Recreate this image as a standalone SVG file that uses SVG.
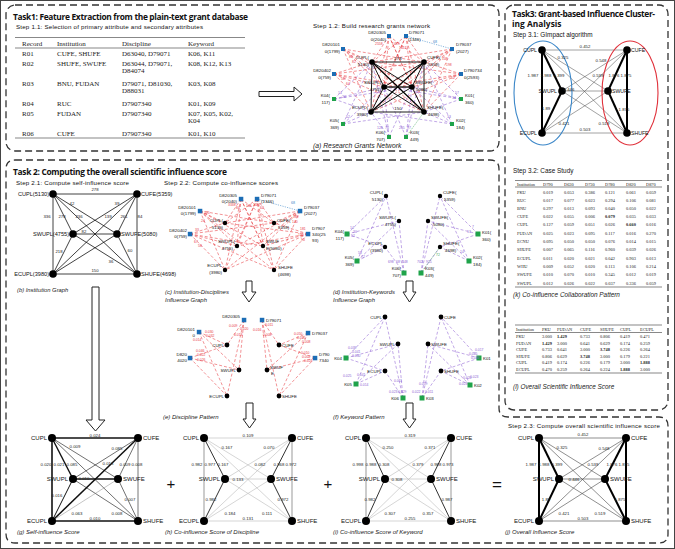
<svg xmlns="http://www.w3.org/2000/svg" width="675" height="549" viewBox="0 0 675 549">
<style>
.f{font-family:"Liberation Sans",Arial,sans-serif;fill:#111}
.s{font-family:"Liberation Serif","Times New Roman",serif;fill:#222}
.h{font-family:"Open Sans","Noto Sans",sans-serif;font-weight:bold;fill:#111}
.cap{font-family:"Liberation Sans",Arial,sans-serif;font-style:italic;fill:#222}
.box{fill:none;stroke:#333;stroke-width:1.3;stroke-dasharray:7 4}
.ds{fill:#1c6db5}
.ks{fill:#1fa34a}
.rd{stroke:#e8383f;stroke-width:0.55;stroke-dasharray:3 2;fill:none}
.pd{stroke:#8d5fd3;stroke-width:0.55;stroke-dasharray:3 2;fill:none}
.arw{fill:#fff;stroke:#222;stroke-width:1}
.rl{font-family:"Liberation Sans",Arial,sans-serif;fill:#e8383f;font-size:3.4px}
.pl{font-family:"Liberation Sans",Arial,sans-serif;fill:#8d5fd3;font-size:3.4px}
.tl{stroke:#555;stroke-width:0.7}
.el{font-family:"Liberation Sans",Arial,sans-serif;fill:#222;font-size:4.3px;text-anchor:middle}
.nl{font-family:"Liberation Sans",Arial,sans-serif;fill:#111;font-size:6px}
.ml{font-family:"Liberation Sans",Arial,sans-serif;fill:#111;font-size:4.4px}
.end{text-anchor:end}
.tk{font-family:"Liberation Serif","Times New Roman",serif;fill:#222;font-size:4.4px}
</style>
<rect x="0" y="0" width="675" height="549" fill="#fff"/>
<rect x="0.5" y="0.5" width="674" height="548" fill="none" stroke="#444" stroke-width="1"/>

<!-- Boxes -->
<g id="boxes">
<rect class="box" x="6" y="5" width="493" height="146" rx="9"/>
<rect class="box" x="505" y="5" width="163" height="405" rx="9"/>
<path class="box" d="M15 160H490Q499 160 499 169V408Q499 417 508 417H659Q668 417 668 426V534Q668 543 659 543H15Q6 543 6 534V169Q6 160 15 160Z"/>
</g>

<!-- Task 1 -->
<g id="task1">
<text class="h" x="13" y="20" font-size="8.4" textLength="235">Task1: Feature Extraction from the plain-text grant database</text>
<text class="f" x="16" y="29" font-size="6.2" textLength="187">Step 1.1: Selection of primary attribute and secondary attributes</text>
<line class="tl" x1="15" y1="37.5" x2="245" y2="37.5"/>
<line class="tl" x1="15" y1="48" x2="245" y2="48" stroke-width="0.5"/>
<line class="tl" x1="15" y1="138" x2="245" y2="138"/>
<g class="s" font-size="7">
<text x="22" y="45.5">Record</text><text x="57" y="45.5">Institution</text><text x="122" y="45.5">Discipline</text><text x="188" y="45.5">Keyword</text>
<text x="22" y="55.5">R01</text><text x="57" y="55.5">CUFE, SHUFE</text><text x="122" y="55.5">D63040, D79071</text><text x="188" y="55.5">K06, K11</text>
<text x="22" y="65.5">R02</text><text x="57" y="65.5">SHUFE, SWUFE</text><text x="122" y="65.5">D63044, D79071,</text><text x="188" y="65.5">K08, K12, K13</text>
<text x="122" y="72.5">D84074</text>
<text x="22" y="85.5">R03</text><text x="57" y="85.5">BNU, FUDAN</text><text x="122" y="85.5">D79071, D81030,</text><text x="188" y="85.5">K03, K08</text>
<text x="122" y="92.5">D88031</text>
<text x="22" y="105.5">R04</text><text x="57" y="105.5">RUC</text><text x="122" y="105.5">D7907340</text><text x="188" y="105.5">K01, K09</text>
<text x="22" y="115.5">R05</text><text x="57" y="115.5">FUDAN</text><text x="122" y="115.5">D7907340</text><text x="188" y="115.5">K07, K05, K02,</text>
<text x="188" y="122.5">K04</text>
<text x="22" y="135.5">R06</text><text x="57" y="135.5">CUFE</text><text x="122" y="135.5">D7907340</text><text x="188" y="135.5">K01, K10</text>
</g>
<polygon class="arw" points="259,91.5 294,91.5 294,87 302,94 294,101 294,96.5 259,96.5"/>
</g>

<!-- (a) research grants network -->
<g id="network-a">
<text class="f" x="313" y="28" font-size="6.2" textLength="117">Step 1.2: Build research grants network</text>
<g id="a-connectors">
<path class="rd" d="M389 36L372 62M389 36L424 62M389 36L384 87M389 36L412 87M389 36L371 112M389 36L424 112M406 36L372 62M406 36L424 62M406 36L384 87M406 36L412 87M406 36L371 112M406 36L424 112M343 49L372 62M343 49L424 62M343 49L384 87M343 49L412 87M343 49L371 112M343 49L424 112M452 49L372 62M452 49L424 62M452 49L384 87M452 49L412 87M452 49L371 112M452 49L424 112M334 74L372 62M334 74L424 62M334 74L384 87M334 74L412 87M334 74L371 112M334 74L424 112M461 74L372 62M461 74L424 62M461 74L384 87M461 74L412 87M461 74L371 112M461 74L424 112"/>
<path class="pd" d="M334 99L372 62M334 99L384 87M334 99L371 112M334 99L412 87M343 124L372 62M343 124L384 87M343 124L371 112M343 124L424 112M389 137L372 62M389 137L384 87M389 137L371 112M389 137L412 87M406 137L424 62M406 137L412 87M406 137L384 87M461 99L424 62M461 99L412 87M461 99L424 112M461 99L384 87M452 124L424 62M452 124L412 87M452 124L424 112M452 124L371 112"/>
<line x1="406" y1="36" x2="452" y2="49" stroke="#3a86c8" stroke-width="0.6" stroke-dasharray="1.2 1.2"/>
<line x1="406" y1="137" x2="424" y2="112" stroke="#3aa655" stroke-width="0.6" stroke-dasharray="1.2 1.2"/>
<g stroke="#000" stroke-width="0.9">
<line x1="372" y1="62" x2="424" y2="62"/><line x1="372" y1="62" x2="384" y2="87"/><line x1="372" y1="62" x2="412" y2="87"/><line x1="372" y1="62" x2="371" y2="112"/><line x1="372" y1="62" x2="424" y2="112" stroke-width="1.2"/>
<line x1="424" y1="62" x2="384" y2="87"/><line x1="424" y1="62" x2="412" y2="87"/><line x1="424" y1="62" x2="371" y2="112" stroke-width="1.2"/><line x1="424" y1="62" x2="424" y2="112"/>
<line x1="384" y1="87" x2="412" y2="87" stroke-width="1.3"/><line x1="384" y1="87" x2="371" y2="112"/><line x1="384" y1="87" x2="424" y2="112"/>
<line x1="412" y1="87" x2="371" y2="112"/><line x1="412" y1="87" x2="424" y2="112"/><line x1="371" y1="112" x2="424" y2="112"/>
</g>
</g>
<g id="a-nodes">
<circle cx="372" cy="62" r="2.8"/><circle cx="424" cy="62" r="2.8"/><circle cx="384" cy="87" r="2.8"/><circle cx="412" cy="87" r="2.8"/><circle cx="371" cy="112" r="2.8"/><circle cx="424" cy="112" r="2.8"/>
<rect class="ds" x="387" y="34" width="4" height="4"/><rect class="ds" x="404" y="34" width="4" height="4"/><rect class="ds" x="341" y="47" width="4" height="4"/><rect class="ds" x="450" y="47" width="4" height="4"/><rect class="ds" x="332" y="72" width="4" height="4"/><rect class="ds" x="459" y="72" width="4" height="4"/>
<rect class="ks" x="332" y="97" width="4" height="4"/><rect class="ks" x="459" y="97" width="4" height="4"/><rect class="ks" x="341" y="122" width="4" height="4"/><rect class="ks" x="450" y="122" width="4" height="4"/><rect class="ks" x="387" y="135" width="4" height="4"/><rect class="ks" x="404" y="135" width="4" height="4"/>
</g>
<g class="ml" font-size="4">
<text x="386" y="34" class="end">D820305</text><text x="386" y="41" class="end">0(2040)</text>
<text x="409" y="34">D79071</text><text x="408" y="41">(1346)</text>
<text x="340" y="46" class="end">D820101</text><text x="340" y="53" class="end">0(1799)</text>
<text x="456" y="46">D79037</text><text x="456" y="53">(2027)</text>
<text x="331" y="72" class="end">D820402</text><text x="331" y="79" class="end">0(759)</text>
<text x="464" y="72">D790734</text><text x="464" y="79">0(2593)</text>
<text x="330" y="97" class="end">K04(</text><text x="330" y="104" class="end">117)</text>
<text x="465" y="97">K01(</text><text x="465" y="104">360)</text>
<text x="339" y="122" class="end">K05(</text><text x="339" y="129" class="end">369)</text>
<text x="456" y="122">K02(</text><text x="456" y="129">184)</text>
<text x="385" y="134" class="end">K06(</text><text x="385" y="141" class="end">707)</text>
<text x="410" y="134">K03(</text><text x="410" y="141">449)</text>
<text x="369" y="59" class="end">CUPL(</text><text x="369" y="66" class="end">5130)</text>
<text x="427" y="59">CUFE(</text><text x="428" y="66">5359)</text>
<text x="381" y="84" class="end">SWUPL(</text><text x="381" y="91" class="end">4755)</text>
<text x="415" y="84">SWUFE(</text><text x="416" y="91">5080)</text>
<text x="368" y="109" class="end">ECUPL(</text><text x="368" y="116" class="end">3980)</text>
<text x="427" y="109">SHUFE(</text><text x="428" y="116">4698)</text>
<text x="398" y="60" text-anchor="middle">278</text><text x="398" y="110" text-anchor="middle">150</text>
</g>
<text x="433" y="43" font-family="Liberation Sans,Arial,sans-serif" font-size="3.6" fill="#3a86c8">68</text>
<g class="rl"><text x="375" y="45">2558</text><text x="392" y="45">1489</text><text x="399" y="49">1451</text><text x="349" y="58">80</text><text x="352" y="63">82</text><text x="341" y="80">56</text><text x="346" y="85">64</text><text x="442" y="60">108</text><text x="446" y="66">198</text><text x="451" y="79">52</text></g>
<g class="pl"><text x="338" y="94">14</text><text x="342" y="98">20</text><text x="455" y="94">57</text><text x="452" y="99">14</text><text x="377" y="129">128</text><text x="385" y="129">70</text><text x="399" y="129">205</text><text x="407" y="129">97</text><text x="346" y="118">52</text><text x="447" y="118">13</text></g>
<text class="cap" x="313" y="148" font-size="6.8">(a) Research Grants Network</text>
</g>

<!-- Task 3 -->
<g id="task3">
<text class="h" x="512" y="17" font-size="8.4" textLength="143">Task3: Grant-based Influence Cluster-</text>
<text class="h" x="512" y="27" font-size="8.4">ing Analysis</text>
<text class="f" x="513" y="37" font-size="6.4">Step 3.1: GImpact algorithm</text>
<g id="t3-connectors">
<g stroke="#555" stroke-width="0.55">
<line x1="542" y1="50" x2="627" y2="50"/><line x1="542" y1="50" x2="608" y2="91"/><line x1="542" y1="50" x2="627" y2="133"/>
<line x1="627" y1="50" x2="562" y2="91"/><line x1="627" y1="50" x2="542" y2="133"/>
<line x1="562" y1="91" x2="608" y2="91"/><line x1="562" y1="91" x2="627" y2="133"/>
<line x1="608" y1="91" x2="542" y2="133"/><line x1="542" y1="133" x2="627" y2="133"/>
</g>
<g stroke="#000" stroke-width="2">
<line x1="542" y1="50" x2="562" y2="91"/><line x1="542" y1="50" x2="542" y2="133"/><line x1="562" y1="91" x2="542" y2="133"/>
<line x1="627" y1="50" x2="608" y2="91"/><line x1="627" y1="50" x2="627" y2="133"/><line x1="608" y1="91" x2="627" y2="133"/>
</g>
</g>
<ellipse cx="543" cy="93" rx="29" ry="52" fill="none" stroke="#3a86c8" stroke-width="1.1"/>
<ellipse cx="630" cy="93" rx="28" ry="52" fill="none" stroke="#e0303a" stroke-width="1.1"/>
<g id="t3-nodes"><circle cx="542" cy="50" r="3.8"/><circle cx="627" cy="50" r="3.8"/><circle cx="562" cy="91" r="3.8"/><circle cx="608" cy="91" r="3.8"/><circle cx="542" cy="133" r="3.8"/><circle cx="627" cy="133" r="3.8"/></g>
<g class="f" font-size="5.2">
<text x="537" y="52" class="end">CUPL</text><text x="631" y="52">CUFE</text><text x="557" y="93" class="end">SWUPL</text><text x="612" y="93">SWUFE</text><text x="537" y="135" class="end">ECUPL</text><text x="631" y="135">SHUFE</text>
</g>
<g class="el" font-size="3.9">
<text x="585" y="48">0.452</text><text x="563" y="59">0.325</text><text x="601" y="62">0.548</text>
<text x="533" y="76.5">1.987</text><text x="546" y="76.5">1.988</text><text x="559" y="76.5">0.399</text><text x="598" y="76.5">0.539</text><text x="614" y="76.5">1.876</text><text x="626" y="76.5">1.875</text>
<text x="569" y="91">0.446</text><text x="546" y="110">1.89</text><text x="624" y="111">1.875</text>
<text x="564" y="125">0.421</text><text x="604" y="125">0.519</text><text x="585" y="131">0.503</text>
</g>
<text class="f" x="513" y="173" font-size="6.4">Step 3.2: Case Study</text>
<line class="tl" x1="515" y1="180.5" x2="662" y2="180.5" stroke-width="0.5"/>
<line class="tl" x1="515" y1="187" x2="662" y2="187" stroke-width="0.3"/>
<line class="tl" x1="515" y1="287" x2="662" y2="287" stroke-width="0.5"/>
<g class="tk">
<text x="517" y="185.5">Institution</text><text x="543" y="185.5">D790</text><text x="564" y="185.5">D630</text><text x="585" y="185.5">D730</text><text x="605" y="185.5">D780</text><text x="626" y="185.5">D820</text><text x="646" y="185.5">D870</text>
<text x="517" y="193.5">PKU</text><text x="543" y="193.5">0.019</text><text x="564" y="193.5">0.053</text><text x="585" y="193.5">0.386</text><text x="605" y="193.5">0.121</text><text x="626" y="193.5">0.061</text><text x="646" y="193.5">0.059</text>
<text x="517" y="201.5">RUC</text><text x="543" y="201.5">0.017</text><text x="564" y="201.5">0.077</text><text x="585" y="201.5">0.023</text><text x="605" y="201.5">0.294</text><text x="626" y="201.5">0.106</text><text x="646" y="201.5">0.081</text>
<text x="517" y="209.5">BNU</text><text x="543" y="209.5">0.297</text><text x="564" y="209.5">0.013</text><text x="585" y="209.5">0.093</text><text x="605" y="209.5">0.040</text><text x="626" y="209.5">0.050</text><text x="646" y="209.5">0.022</text>
<text x="517" y="218">CUFE</text><text x="543" y="218">0.022</text><text x="564" y="218">0.055</text><text x="585" y="218">0.006</text><text x="605" y="218" font-weight="bold">0.079</text><text x="626" y="218">0.035</text><text x="646" y="218">0.033</text>
<text x="517" y="226">CUPL</text><text x="543" y="226">0.127</text><text x="564" y="226">0.059</text><text x="585" y="226">0.051</text><text x="605" y="226">0.026</text><text x="626" y="226" font-weight="bold">0.660</text><text x="646" y="226">0.016</text>
<text x="517" y="234.5">FUDAN</text><text x="543" y="234.5">0.025</text><text x="564" y="234.5">0.023</text><text x="585" y="234.5">0.095</text><text x="605" y="234.5">0.117</text><text x="626" y="234.5">0.016</text><text x="646" y="234.5">0.270</text>
<text x="517" y="243">ECNU</text><text x="543" y="243">0.095</text><text x="564" y="243">0.050</text><text x="585" y="243">0.050</text><text x="605" y="243">0.076</text><text x="626" y="243">0.014</text><text x="646" y="243">0.015</text>
<text x="517" y="251">SHUFE</text><text x="543" y="251">0.007</text><text x="564" y="251">0.065</text><text x="585" y="251">0.116</text><text x="605" y="251">0.960</text><text x="626" y="251">0.039</text><text x="646" y="251">0.026</text>
<text x="517" y="259.5">ECUPL</text><text x="543" y="259.5">0.011</text><text x="564" y="259.5">0.020</text><text x="585" y="259.5">0.021</text><text x="605" y="259.5">0.042</text><text x="626" y="259.5">0.903</text><text x="646" y="259.5">0.013</text>
<text x="517" y="268">WHU</text><text x="543" y="268">0.009</text><text x="564" y="268">0.052</text><text x="585" y="268">0.020</text><text x="605" y="268">0.113</text><text x="626" y="268">0.106</text><text x="646" y="268">0.214</text>
<text x="517" y="276">SWUFE</text><text x="543" y="276">0.010</text><text x="564" y="276">0.070</text><text x="585" y="276">0.010</text><text x="605" y="276">0.345</text><text x="626" y="276">0.012</text><text x="646" y="276">0.019</text>
<text x="517" y="284.5">SWUPL</text><text x="543" y="284.5">0.012</text><text x="564" y="284.5">0.026</text><text x="585" y="284.5">0.022</text><text x="605" y="284.5">0.037</text><text x="626" y="284.5">0.336</text><text x="646" y="284.5">0.059</text>
</g>
<text class="cap" x="513" y="297" font-size="6.4">(k) Co-influence Collaboration Pattern</text>
<line class="tl" x1="515" y1="325" x2="662" y2="325" stroke-width="0.5"/>
<line class="tl" x1="515" y1="332.5" x2="662" y2="332.5" stroke-width="0.3"/>
<line class="tl" x1="515" y1="373" x2="662" y2="373" stroke-width="0.5"/>
<g class="tk">
<text x="516" y="331">Institution</text><text x="542" y="331">PKU</text><text x="557" y="331">FUDAN</text><text x="580" y="331">CUFE</text><text x="600" y="331">SHUFE</text><text x="620" y="331">CUPL</text><text x="640" y="331">ECUPL</text>
<text x="516" y="338">PKU</text><text x="542" y="338">3.000</text><text x="557" y="338" font-weight="bold">1.429</text><text x="580" y="338">0.733</text><text x="600" y="338">0.806</text><text x="620" y="338">0.419</text><text x="640" y="338">0.471</text>
<text x="516" y="344.5">FUDAN</text><text x="542" y="344.5" font-weight="bold">1.429</text><text x="557" y="344.5">3.000</text><text x="580" y="344.5">0.641</text><text x="600" y="344.5">0.629</text><text x="620" y="344.5">0.174</text><text x="640" y="344.5">0.259</text>
<text x="516" y="351">CUFE</text><text x="542" y="351">0.733</text><text x="557" y="351">0.641</text><text x="580" y="351">3.000</text><text x="600" y="351" font-weight="bold">3.748</text><text x="620" y="351">0.226</text><text x="640" y="351">0.264</text>
<text x="516" y="357.5">SHUFE</text><text x="542" y="357.5">0.806</text><text x="557" y="357.5">0.629</text><text x="580" y="357.5" font-weight="bold">3.748</text><text x="600" y="357.5">3.000</text><text x="620" y="357.5">0.179</text><text x="640" y="357.5">0.221</text>
<text x="516" y="364">CUPL</text><text x="542" y="364">0.419</text><text x="557" y="364">0.174</text><text x="580" y="364">0.226</text><text x="600" y="364">0.179</text><text x="620" y="364">3.000</text><text x="640" y="364" font-weight="bold">1.888</text>
<text x="516" y="370.5">ECUPL</text><text x="542" y="370.5">0.470</text><text x="557" y="370.5">0.259</text><text x="580" y="370.5">0.264</text><text x="600" y="370.5">0.224</text><text x="620" y="370.5" font-weight="bold">1.888</text><text x="640" y="370.5">3.000</text>
</g>
<text class="cap" x="513" y="389" font-size="6.4">(l) Overall Scientific Influence Score</text>
</g>

<!-- Task 2 header -->
<text class="h" x="13" y="175" font-size="8.4" textLength="214">Task 2: Computing the overall scientific influence score</text>
<text class="f" x="16" y="185" font-size="6.2" textLength="113">Step 2.1: Compute self-influence score</text>

<!-- (b) institution graph -->
<g id="graph-b">
<g stroke="#111" stroke-width="0.8">
<line x1="53" y1="194" x2="137" y2="194"/><line x1="53" y1="194" x2="73" y2="234"/><line x1="53" y1="194" x2="117" y2="234"/><line x1="53" y1="194" x2="53" y2="274"/><line x1="53" y1="194" x2="137" y2="274"/>
<line x1="137" y1="194" x2="73" y2="234"/><line x1="137" y1="194" x2="117" y2="234"/><line x1="137" y1="194" x2="53" y2="274"/><line x1="137" y1="194" x2="137" y2="274"/>
<line x1="73" y1="234" x2="117" y2="234"/><line x1="73" y1="234" x2="53" y2="274"/><line x1="73" y1="234" x2="137" y2="274"/>
<line x1="117" y1="234" x2="53" y2="274"/><line x1="117" y1="234" x2="137" y2="274"/><line x1="53" y1="274" x2="137" y2="274"/>
</g>
<circle cx="53" cy="194" r="3.8"/><circle cx="137" cy="194" r="3.8"/><circle cx="73" cy="234" r="3.8"/><circle cx="117" cy="234" r="3.8"/><circle cx="53" cy="274" r="3.8"/><circle cx="137" cy="274" r="3.8"/>
<g class="f" font-size="5.6">
<text x="49" y="196" class="end">CUPL(5130)</text><text x="141" y="196">CUFE(5359)</text><text x="69" y="236" class="end">SWUPL(4755)</text><text x="121" y="236">SWUFE(5080)</text><text x="49" y="276" class="end">ECUPL(3980)</text><text x="141" y="276">SHUFE(4698)</text>
</g>
<g class="el" font-size="4.4">
<text x="95" y="191">278</text><text x="72" y="205">42</text><text x="117" y="205">39</text>
<text x="47" y="218">336</text><text x="62" y="218">278</text><text x="79" y="218">236</text><text x="108" y="218">139</text><text x="124" y="218">261</text><text x="140" y="218">84</text>
<text x="84" y="233">82</text><text x="59" y="253">218</text><text x="130" y="252">60</text><text x="111" y="263">36</text><text x="95" y="272">150</text>
</g>
<text class="cap" x="17" y="292" font-size="5.8">(b) Institution Graph</text>
<polygon class="arw" points="92,287 99,287 99,420 105,420 95.5,431 86,420 92,420"/>
</g>

<!-- (c) institution-disciplines -->
<g id="graph-c">
<text class="f" x="164" y="185" font-size="6.2" textLength="114">Step 2.2: Compute co-influence scores</text>
<path class="rd" d="M241 199L225 223M241 199L274 223M241 199L237 246M241 199L263 246M241 199L225 270M241 199L274 270M257 199L225 223M257 199L274 223M257 199L237 246M257 199L263 246M257 199L225 270M257 199L274 270M200 211L225 223M200 211L274 223M200 211L237 246M200 211L263 246M200 211L225 270M200 211L274 270M300 211L225 223M300 211L274 223M300 211L237 246M300 211L263 246M300 211L225 270M300 211L274 270M190 234L225 223M190 234L274 223M190 234L237 246M190 234L263 246M190 234L225 270M190 234L274 270M308 234L225 223M308 234L274 223M308 234L237 246M308 234L263 246M308 234L225 270M308 234L274 270"/>
<line x1="257" y1="199" x2="300" y2="211" stroke="#3a86c8" stroke-width="0.6" stroke-dasharray="1.2 1.2"/>
<text x="291" y="204" font-family="Liberation Sans,Arial,sans-serif" font-size="3.6" fill="#3a86c8">68</text>
<circle cx="225" cy="223" r="2.2"/><circle cx="274" cy="223" r="2.2"/><circle cx="237" cy="246" r="2.2"/><circle cx="263" cy="246" r="2.2"/><circle cx="225" cy="270" r="2.2"/><circle cx="274" cy="270" r="2.2"/>
<rect class="ds" x="238.8" y="196.8" width="4.5" height="4.5"/><rect class="ds" x="254.8" y="196.8" width="4.5" height="4.5"/><rect class="ds" x="197.8" y="208.8" width="4.5" height="4.5"/><rect class="ds" x="297.8" y="208.8" width="4.5" height="4.5"/><rect class="ds" x="187.8" y="231.8" width="4.5" height="4.5"/><rect class="ds" x="305.8" y="231.8" width="4.5" height="4.5"/>
<g class="ml">
<text x="237" y="197" class="end">D820305</text><text x="237" y="203" class="end">0(2040)</text>
<text x="261" y="197">D79071</text><text x="261" y="203">(1346)</text>
<text x="196" y="209" class="end">D820101</text><text x="196" y="215" class="end">0(1799)</text>
<text x="304" y="209">D79037</text><text x="304" y="215">(2027)</text>
<text x="187" y="232" class="end">D820402</text><text x="187" y="238" class="end">0(759)</text>
<text x="312" y="230">D7907</text><text x="312" y="236">340(25</text><text x="312" y="242">93)</text>
<text x="223" y="222" class="end">CUPL(</text><text x="223" y="229" class="end">5130)</text>
<text x="277" y="222">CUFE(</text><text x="278" y="229">5359)</text>
<text x="235" y="243" class="end">SWUPL(</text><text x="233" y="250" class="end">4755)</text>
<text x="266" y="243">SWUF</text><text x="266" y="250">E(5080)</text>
<text x="222" y="267" class="end">ECUPL</text><text x="222" y="274" class="end">(3980)</text>
<text x="278" y="269">SHUFE</text><text x="278" y="276">(4698)</text>
</g>
<g class="rl"><text x="228" y="206">3338</text><text x="236" y="209">84</text><text x="246" y="207">146</text><text x="253" y="206">1487</text><text x="260" y="209">62</text><text x="204" y="214">225</text><text x="201" y="222">24</text><text x="195" y="231">33</text><text x="194" y="243">67</text><text x="198" y="247">58</text><text x="293" y="218">189</text><text x="292" y="223">140</text><text x="300" y="230">181</text><text x="298" y="236">150</text><text x="301" y="241">90</text></g>
<text class="cap" x="165" y="294" font-size="5.9">(c) Institution-Disciplines</text>
<text class="cap" x="165" y="302" font-size="5.9">Influence Graph</text>
<polygon class="arw" points="246,281 252,281 252,292 256,292 249,302 242,292 246,292"/>
</g>

<!-- (d) institution-keywords -->
<g id="graph-d">
<path class="pd" d="M347 234L386 196M347 234L399 221M347 234L385 247M357 261L386 196M357 261L399 221M357 261L385 247M404 273L386 196M404 273L399 221M404 273L385 247M421 273L440 196M421 273L428 221M421 273L440 247M478 234L440 196M478 234L428 221M478 234L440 247M469 261L440 196M469 261L428 221M469 261L440 247"/>
<line x1="421" y1="273" x2="440" y2="247" stroke="#3aa655" stroke-width="0.6" stroke-dasharray="1.2 1.2"/>
<circle cx="386" cy="196" r="2.2"/><circle cx="440" cy="196" r="2.2"/><circle cx="399" cy="221" r="2.2"/><circle cx="428" cy="221" r="2.2"/><circle cx="385" cy="247" r="2.2"/><circle cx="440" cy="247" r="2.2"/>
<rect class="ks" x="344.5" y="231.5" width="5" height="5"/><rect class="ks" x="354.5" y="258.5" width="5" height="5"/><rect class="ks" x="401.5" y="270.5" width="5" height="5"/><rect class="ks" x="418.5" y="270.5" width="5" height="5"/><rect class="ks" x="475.5" y="231.5" width="5" height="5"/><rect class="ks" x="466.5" y="258.5" width="5" height="5"/>
<g class="ml">
<text x="383" y="194" class="end">CUPL(</text><text x="383" y="201" class="end">5130)</text>
<text x="443" y="194">CUFE(</text><text x="444" y="201">5359)</text>
<text x="396" y="219" class="end">SWUPL(</text><text x="396" y="226" class="end">4755)</text>
<text x="431" y="219">SWUFE(</text><text x="433" y="226">5080)</text>
<text x="383" y="245" class="end">ECUPL</text><text x="383" y="252" class="end">(3980)</text>
<text x="443" y="245">SHUFE(</text><text x="445" y="252">4698)</text>
<text x="344" y="233" class="end">K04(</text><text x="344" y="240" class="end">117)</text>
<text x="354" y="259" class="end">K05(</text><text x="354" y="266" class="end">369)</text>
<text x="401" y="270" class="end">K06(</text><text x="401" y="277" class="end">707)</text>
<text x="425" y="270">K03(</text><text x="425" y="277">449)</text>
<text x="482" y="234">K01(</text><text x="482" y="241">360)</text>
<text x="473" y="259">K02(</text><text x="473" y="266">184)</text>
</g>
<g class="pl"><text x="350" y="229">14</text><text x="353" y="233">20</text><text x="351" y="237">52</text><text x="358" y="254">58</text><text x="361" y="258">72</text><text x="388" y="263">698</text><text x="396" y="263">68</text><text x="402" y="263">148</text><text x="417" y="263">702</text><text x="426" y="263">915</text><text x="472" y="228">7</text><text x="467" y="233">13</text><text x="460" y="253">14</text></g>
<text x="436" y="256" font-family="Liberation Sans,Arial,sans-serif" font-size="3.4" fill="#3aa655">72</text>
<text class="cap" x="333" y="294" font-size="5.9">(d) Institution-Keywords</text>
<text class="cap" x="333" y="302" font-size="5.9">Influence Graph</text>
<polygon class="arw" points="406,281 413,281 413,292 416,292 409.5,302 403,292 406,292"/>
</g>

<!-- (e) discipline pattern -->
<g id="graph-e">
<path class="rd" d="M244 320L227 345M244 320L239 370M244 320L227 396M199 332L227 345M199 332L239 370M199 332L227 396M190 358L227 345M190 358L239 370M190 358L227 396M262 320L279 345M262 320L267 370M262 320L279 396M308 333L279 345M308 333L267 370M308 333L279 396M315 358L279 345M315 358L267 370M315 358L279 396"/>
<circle cx="227" cy="345" r="2.4"/><circle cx="239" cy="370" r="2.4"/><circle cx="227" cy="396" r="2.4"/><circle cx="279" cy="345" r="2.4"/><circle cx="267" cy="370" r="2.4"/><circle cx="279" cy="396" r="2.4"/>
<rect class="ds" x="241.8" y="317.8" width="4.5" height="4.5"/><rect class="ds" x="259.8" y="317.8" width="4.5" height="4.5"/><rect class="ds" x="196.8" y="329.8" width="4.5" height="4.5"/><rect class="ds" x="187.8" y="355.8" width="4.5" height="4.5"/><rect class="ds" x="305.8" y="330.8" width="4.5" height="4.5"/><rect class="ds" x="312.8" y="355.8" width="4.5" height="4.5"/>
<g class="ml" font-size="4.6">
<text x="224" y="347" class="end">CUPL</text><text x="236" y="372" class="end">SWUPL</text><text x="224" y="398" class="end">ECUPL</text>
<text x="282" y="347">CUFE</text><text x="270" y="369">SWUF</text><text x="271" y="375">E</text><text x="282" y="398">SHUFE</text>
<text x="240" y="318" class="end">D820305</text><text x="266" y="322">D79071</text>
<text x="195" y="331" class="end">D820101</text><text x="195" y="337" class="end">0</text>
<text x="187" y="356" class="end">D820</text><text x="187" y="362" class="end">4020</text>
<text x="312" y="335">D79037</text><text x="319" y="356">D790</text><text x="319" y="362">7340</text>
</g>
<g class="rl"><text x="205" y="333">0.030</text><text x="206" y="337">0.032</text><text x="193" y="341">0.014</text><text x="229" y="327">0.009</text><text x="240" y="330">0.020</text><text x="234" y="336">0.013</text><text x="265" y="326">0.011</text><text x="253" y="331">0.016</text><text x="263" y="336">0.008</text><text x="294" y="335">0.050</text><text x="297" y="339">0.020</text><text x="302" y="343">0.008</text><text x="196" y="352">0.046</text><text x="197" y="356">0.022</text><text x="197" y="361">0.026</text><text x="301" y="354">0.010</text><text x="302" y="358">0.002</text><text x="304" y="362">0.024</text></g>
<text class="cap" x="163" y="419" font-size="6">(e) Discipline Pattern</text>
<polygon class="arw" points="246,403 253,403 253,419 256,419 249.5,428 243,419 246,419"/>
</g>

<!-- (f) keyword pattern -->
<g id="graph-f">
<path class="pd" d="M346 358L385 317M346 358L398 344M346 358L385 371M356 384L385 317M356 384L398 344M356 384L385 371M403 398L385 317M403 398L398 344M403 398L385 371M422 398L441 317M422 398L428 344M422 398L441 371M479 358L441 317M479 358L428 344M479 358L441 371M470 385L441 317M470 385L428 344M470 385L441 371"/>
<circle cx="385" cy="317" r="2.4"/><circle cx="441" cy="317" r="2.4"/><circle cx="398" cy="344" r="2.4"/><circle cx="428" cy="344" r="2.4"/><circle cx="385" cy="371" r="2.4"/><circle cx="441" cy="371" r="2.4"/>
<rect class="ks" x="343.5" y="355.5" width="5" height="5"/><rect class="ks" x="353.5" y="381.5" width="5" height="5"/><rect class="ks" x="400.5" y="395.5" width="5" height="5"/><rect class="ks" x="419.5" y="395.5" width="5" height="5"/><rect class="ks" x="476.5" y="355.5" width="5" height="5"/><rect class="ks" x="467.5" y="382.5" width="5" height="5"/>
<g class="ml" font-size="4.6">
<text x="382" y="319" class="end">CUPL</text><text x="444" y="319">CUFE</text><text x="395" y="346" class="end">SWUPL</text><text x="431" y="346">SWUFE</text><text x="382" y="373" class="end">ECUPL</text><text x="444" y="373">SHUFE</text>
<text x="342" y="360" class="end">K04</text><text x="352" y="386" class="end">K05</text><text x="399" y="400" class="end">K06</text><text x="426" y="400">K03</text><text x="483" y="360">K01</text><text x="474" y="387">K02</text>
</g>
<g class="pl"><text x="348" y="349">0.039</text><text x="352" y="353">0.041</text><text x="352" y="357">0.030</text><text x="343" y="377">0.025</text><text x="357" y="376">0.041</text><text x="360" y="386">0.014</text><text x="394" y="382">0.011</text><text x="389" y="393">0.023</text><text x="398" y="393">0.029</text><text x="412" y="393">0.022</text><text x="419" y="385">0.019</text><text x="425" y="393">0.011</text><text x="475" y="351">0.017</text><text x="469" y="355">0.025</text><text x="471" y="359">0.020</text><text x="463" y="379">0.020</text><text x="470" y="378">0.023</text><text x="459" y="385">0.023</text></g>
<text class="cap" x="333" y="419" font-size="6">(f) Keyword Pattern</text>
<polygon class="arw" points="406,403 413,403 413,419 416,419 409.5,428 403,419 406,419"/>
</g>

<!-- (g) self-influence score -->
<g id="graph-g">
<g stroke="#111">
<line x1="52" y1="438" x2="138" y2="438" stroke-width="1.6"/><line x1="52" y1="438" x2="73" y2="479" stroke-width="1.4"/><line x1="52" y1="438" x2="118" y2="479" stroke-width="0.6"/><line x1="52" y1="438" x2="52" y2="521" stroke-width="1.6"/><line x1="52" y1="438" x2="138" y2="521" stroke-width="0.6"/>
<line x1="138" y1="438" x2="73" y2="479" stroke-width="0.6"/><line x1="138" y1="438" x2="118" y2="479" stroke-width="0.6"/><line x1="138" y1="438" x2="52" y2="521" stroke-width="1.5"/><line x1="138" y1="438" x2="138" y2="521" stroke-width="0.9" stroke="#666"/>
<line x1="73" y1="479" x2="118" y2="479" stroke-width="1.4"/><line x1="73" y1="479" x2="52" y2="521" stroke-width="1"/><line x1="73" y1="479" x2="138" y2="521" stroke-width="0.6"/>
<line x1="118" y1="479" x2="52" y2="521" stroke-width="0.5" stroke="#888"/><line x1="118" y1="479" x2="138" y2="521" stroke-width="0.6"/><line x1="52" y1="521" x2="138" y2="521" stroke-width="1.6"/>
</g>
<circle cx="52" cy="438" r="4"/><circle cx="138" cy="438" r="4"/><circle cx="73" cy="479" r="4"/><circle cx="118" cy="479" r="4"/><circle cx="52" cy="521" r="4"/><circle cx="138" cy="521" r="4"/>
<g class="nl"><text x="47" y="440" class="end">CUPL</text><text x="143" y="440">CUFE</text><text x="68" y="481" class="end">SWUPL</text><text x="123" y="481">SWUFE</text><text x="47" y="523" class="end">ECUPL</text><text x="143" y="523">SHUFE</text></g>
<g class="el">
<text x="95" y="436.5">0.024</text><text x="75" y="447.5">0.009</text><text x="117" y="450">0.085</text>
<text x="46" y="465.5">0.020</text><text x="59" y="465.5">0.021</text><text x="72" y="465.5">0.085</text><text x="108" y="464.5">0.013</text><text x="125" y="465.5">0.009</text><text x="137" y="465.5">0.008</text>
<text x="84" y="479.5">0.010</text><text x="57" y="496.5">0.016</text><text x="130" y="500.5">0.007</text><text x="77" y="514.5">0.063</text><text x="117" y="514.5">0.008</text><text x="95" y="520">0.010</text>
</g>
<text class="cap" x="17" y="534" font-size="6">(g) Self-influence Score</text>
</g>

<text x="171" y="489" font-family="Liberation Sans,Arial,sans-serif" font-size="15" text-anchor="middle" fill="#111">+</text>

<!-- (h) co-influence discipline -->
<g id="graph-h">
<g stroke="#bbb" stroke-width="0.6">
<line x1="204" y1="438" x2="292" y2="438"/><line x1="204" y1="438" x2="271" y2="479"/><line x1="204" y1="438" x2="292" y2="521"/>
<line x1="292" y1="438" x2="225" y2="479"/><line x1="292" y1="438" x2="204" y2="521"/>
<line x1="225" y1="479" x2="271" y2="479"/><line x1="225" y1="479" x2="292" y2="521"/>
<line x1="271" y1="479" x2="204" y2="521"/><line x1="204" y1="521" x2="292" y2="521"/>
</g>
<g stroke="#333" stroke-width="1">
<line x1="204" y1="438" x2="225" y2="479"/><line x1="225" y1="479" x2="204" y2="521"/><line x1="292" y1="438" x2="271" y2="479"/><line x1="271" y1="479" x2="292" y2="521"/>
</g>
<g stroke="#999" stroke-width="1"><line x1="204" y1="438" x2="204" y2="521"/><line x1="292" y1="438" x2="292" y2="521"/></g>
<circle cx="204" cy="438" r="4"/><circle cx="292" cy="438" r="4"/><circle cx="225" cy="479" r="4"/><circle cx="271" cy="479" r="4"/><circle cx="204" cy="521" r="4"/><circle cx="292" cy="521" r="4"/>
<g class="nl"><text x="199" y="440" class="end">CUPL</text><text x="297" y="440">CUFE</text><text x="220" y="481" class="end">SWUPL</text><text x="276" y="481">SWUFE</text><text x="199" y="523" class="end">ECUPL</text><text x="297" y="523">SHUFE</text></g>
<g class="el">
<text x="248" y="436.5">0.109</text><text x="227" y="448.5">0.167</text><text x="269" y="448.5">0.070</text>
<text x="197" y="465.5">0.982</text><text x="210" y="465.5">0.977</text><text x="223" y="465.5">0.167</text><text x="260" y="465.5">0.082</text><text x="279" y="465.5">0.968</text><text x="291" y="465.5">0.972</text>
<text x="238" y="480.5">0.133</text><text x="211" y="500.5">0.982</text><text x="283" y="500.5">0.972</text><text x="230" y="514.5">0.184</text><text x="267" y="514.5">0.111</text><text x="248" y="520">0.131</text>
</g>
<text class="cap" x="165" y="534" font-size="6">(h) Co-influence Score of Discipline</text>
</g>

<text x="328" y="489" font-family="Liberation Sans,Arial,sans-serif" font-size="15" text-anchor="middle" fill="#111">+</text>

<!-- (i) co-influence keyword -->
<g id="graph-i">
<g stroke="#bbb" stroke-width="0.6">
<line x1="366" y1="438" x2="451" y2="438"/><line x1="366" y1="438" x2="431" y2="479"/><line x1="366" y1="438" x2="451" y2="521"/>
<line x1="451" y1="438" x2="385" y2="479"/><line x1="451" y1="438" x2="366" y2="521"/>
<line x1="385" y1="479" x2="431" y2="479"/><line x1="385" y1="479" x2="451" y2="521"/>
<line x1="431" y1="479" x2="366" y2="521"/><line x1="366" y1="521" x2="451" y2="521"/>
</g>
<g stroke="#333" stroke-width="1">
<line x1="366" y1="438" x2="385" y2="479"/><line x1="385" y1="479" x2="366" y2="521"/><line x1="451" y1="438" x2="431" y2="479"/><line x1="431" y1="479" x2="451" y2="521"/>
</g>
<g stroke="#999" stroke-width="1"><line x1="366" y1="438" x2="366" y2="521"/><line x1="451" y1="438" x2="451" y2="521"/></g>
<circle cx="366" cy="438" r="4"/><circle cx="451" cy="438" r="4"/><circle cx="385" cy="479" r="4"/><circle cx="431" cy="479" r="4"/><circle cx="366" cy="521" r="4"/><circle cx="451" cy="521" r="4"/>
<g class="nl"><text x="361" y="440" class="end">CUPL</text><text x="456" y="440">CUFE</text><text x="380" y="481" class="end">SWUPL</text><text x="436" y="481">SWUFE</text><text x="361" y="523" class="end">ECUPL</text><text x="456" y="523">SHUFE</text></g>
<g class="el">
<text x="410" y="436.5">0.319</text><text x="388" y="448.5">0.250</text><text x="430" y="448.5">0.371</text>
<text x="358" y="465.5">0.998</text><text x="371" y="465.5">0.988</text><text x="384" y="465.5">0.308</text><text x="418" y="465.5">0.379</text><text x="436" y="465.5">0.988</text><text x="448" y="465.5">0.973</text>
<text x="397" y="480.5">0.308</text><text x="370" y="500.5">0.982</text><text x="447" y="500.5">0.987</text><text x="390" y="514.5">0.307</text><text x="428" y="514.5">0.357</text><text x="410" y="520">0.255</text>
</g>
<text class="cap" x="333" y="534" font-size="6">(i) Co-influence Score of Keyword</text>
</g>

<text x="497" y="490" font-family="Liberation Sans,Arial,sans-serif" font-size="17" text-anchor="middle" fill="#111">=</text>

<!-- (j) overall influence score -->
<g id="graph-j">
<text class="f" x="508" y="428" font-size="6.2" textLength="152">Step 2.3: Compute overall scientific influence score</text>
<g stroke="#444" stroke-width="0.6">
<line x1="539" y1="438" x2="626" y2="438"/><line x1="539" y1="438" x2="605" y2="479"/><line x1="539" y1="438" x2="626" y2="521"/>
<line x1="626" y1="438" x2="559" y2="479"/><line x1="626" y1="438" x2="539" y2="521"/>
<line x1="559" y1="479" x2="605" y2="479"/><line x1="559" y1="479" x2="626" y2="521"/>
<line x1="605" y1="479" x2="539" y2="521"/><line x1="539" y1="521" x2="626" y2="521"/>
</g>
<g stroke="#000" stroke-width="2">
<line x1="539" y1="438" x2="559" y2="479"/><line x1="539" y1="438" x2="539" y2="521"/><line x1="559" y1="479" x2="539" y2="521"/>
<line x1="626" y1="438" x2="605" y2="479"/><line x1="626" y1="438" x2="626" y2="521"/><line x1="605" y1="479" x2="626" y2="521"/>
</g>
<circle cx="539" cy="438" r="4"/><circle cx="626" cy="438" r="4"/><circle cx="559" cy="479" r="4"/><circle cx="605" cy="479" r="4"/><circle cx="539" cy="521" r="4"/><circle cx="626" cy="521" r="4"/>
<g class="nl"><text x="534" y="440" class="end">CUPL</text><text x="631" y="440">CUFE</text><text x="554" y="481" class="end">SWUPL</text><text x="610" y="481">SWUFE</text><text x="534" y="523" class="end">ECUPL</text><text x="631" y="523">SHUFE</text></g>
<g class="el">
<text x="583" y="436">0.452</text><text x="562" y="448.5">0.325</text><text x="604" y="449.5">0.548</text>
<text x="531" y="465.5">1.987</text><text x="544" y="465.5">1.988</text><text x="557" y="465.5">0.399</text><text x="593" y="465.5">0.539</text><text x="612" y="465.5">1.876</text><text x="624" y="465.5">1.875</text>
<text x="574" y="480.5">0.446</text><text x="546" y="500.5">1.89</text><text x="620" y="500.5">1.875</text><text x="564" y="514.5">0.421</text><text x="600" y="514.5">0.519</text><text x="583" y="520">0.503</text>
</g>
<text class="cap" x="505" y="534" font-size="6">(j) Overall Influence Score</text>
</g>
</svg>
